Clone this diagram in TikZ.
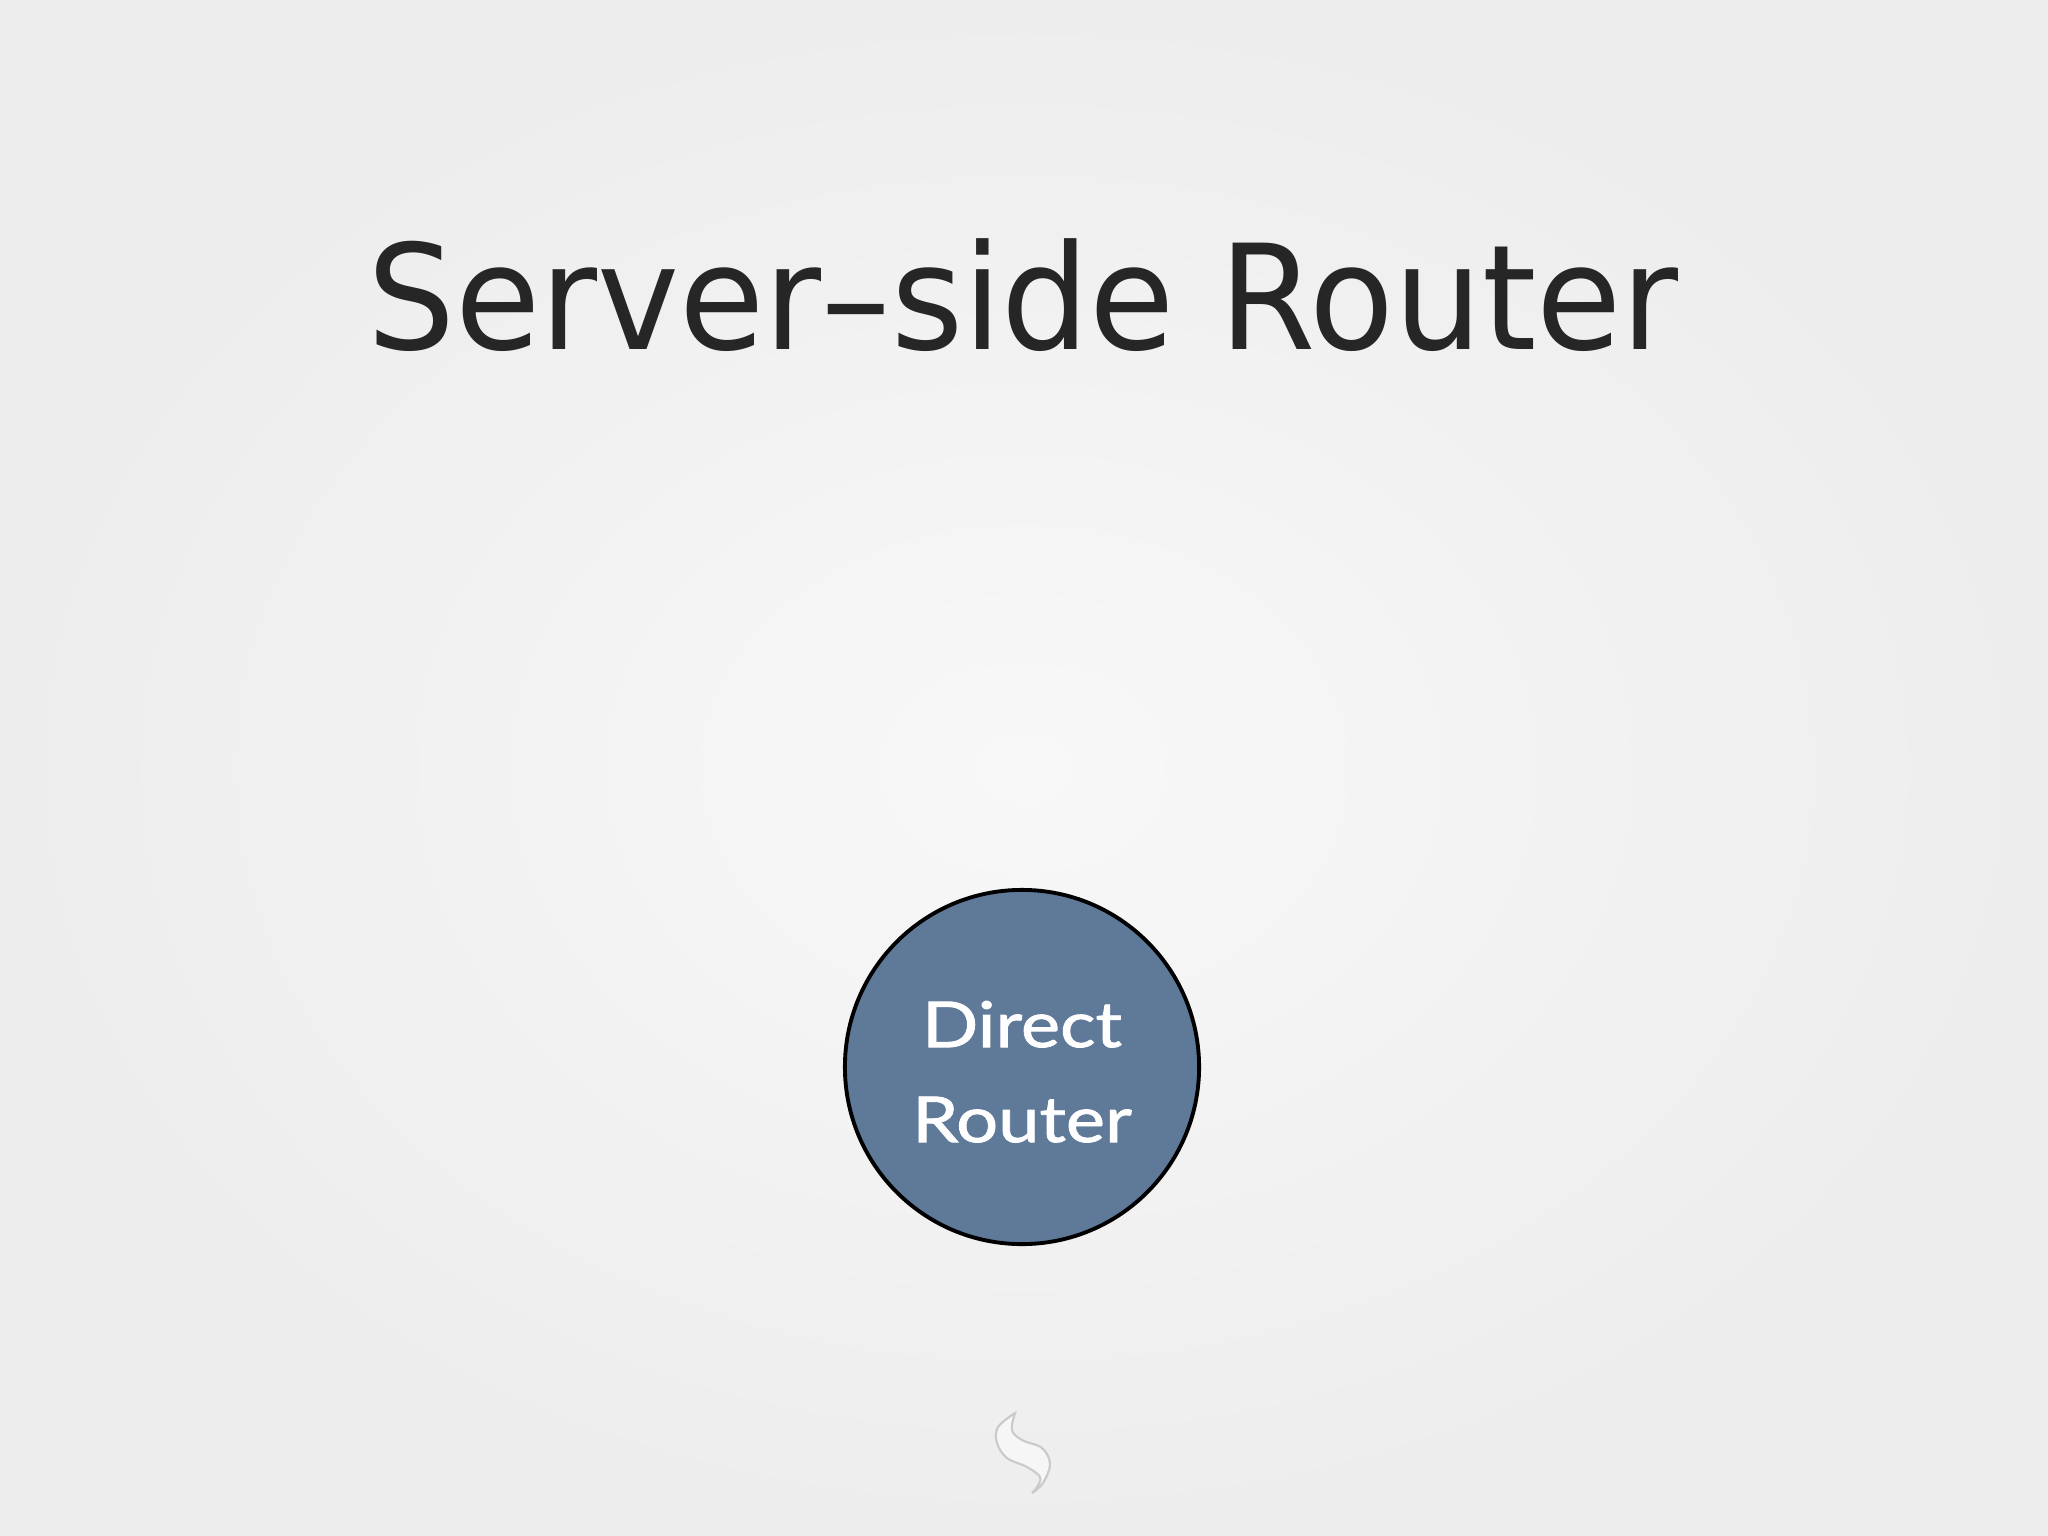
\documentclass[tikz,border=0pt]{standalone}
\usepackage{fontspec}
\newfontfamily\titlefont[FakeStretch=0.95]{DejaVu Sans}
\newfontfamily\nodefont[FakeStretch=1.17, FakeBold=1.3]{Lato}
\definecolor{bgout}{HTML}{EDEDED}
\definecolor{bgin}{HTML}{F8F8F8}
\definecolor{titlegray}{HTML}{262626}
\definecolor{routerblue}{HTML}{5F7999}
\definecolor{swirlgray}{HTML}{CACACA}
\definecolor{swirlfill}{HTML}{F6F6F6}
\tikzset{
  titletext/.style={font=\titlefont\fontsize{41.5}{49}\selectfont, text=titlegray, inner sep=0pt},
  routernode/.style={circle, draw=black, line width=1.1pt, fill=routerblue, minimum size=3.54cm, inner sep=0pt,
    text=white, align=center, text height=42.7pt, text depth=0pt, font=\nodefont\fontsize{18}{27}\selectfont},
  swirl/.style={draw=swirlgray, fill=swirlfill, line width=0.6pt}
}
\begin{document}
\begin{tikzpicture}[x=0.01cm, y=-0.01cm]
  \useasboundingbox (0,0) rectangle (2048,1536);
  \shade[inner color=bgin, outer color=bgout] (0,0) rectangle (2048,1536);
  \node[titletext, anchor=base] (title) at (1023,349) {Server–side Router};
  \node[routernode] (dr) at (1022,1067) {Direct\\Router};
  \draw[swirl] plot[smooth, tension=0.6] coordinates {(1015,1413) (998,1427) (997,1443) (1007,1458) (1027,1467) (1040,1477) (1037,1487) (1032,1493)}
     -- plot[smooth, tension=0.6] coordinates {(1032,1493) (1043,1483) (1050,1464) (1042,1448) (1022,1440) (1012,1430) (1015,1413)} -- cycle;
\end{tikzpicture}
\end{document}
